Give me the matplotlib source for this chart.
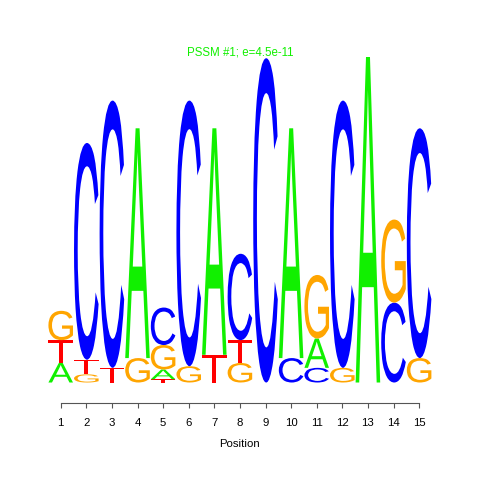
import matplotlib
matplotlib.use("Agg")
import matplotlib.pyplot as plt
from matplotlib.textpath import TextPath
from matplotlib.patches import PathPatch
from matplotlib.font_manager import FontProperties
from matplotlib.transforms import Affine2D

# information content (bits) per letter and position
positions = list(range(1, 16))
bits_A = [0.12, 0, 0, 1.41, 0.06, 0, 1.39, 0, 0, 1.41, 0.18, 0, 2.00, 0, 0]
bits_C = [0, 1.33, 1.64, 0, 0.23, 1.63, 0, 0.53, 1.99, 0.15, 0.09, 1.64, 0, 0.49, 1.41]
bits_G = [0.18, 0.05, 0, 0.15, 0.15, 0.10, 0, 0.12, 0, 0, 0.39, 0.09, 0, 0.51, 0.15]
bits_T = [0.14, 0.09, 0.09, 0, 0.02, 0, 0.17, 0.14, 0, 0, 0, 0, 0, 0, 0]

colors = {"A": "#11f000", "C": "#0000ff", "G": "#ffa500", "T": "#ff0000"}
title = "PSSM #1; e=4.5e-11"

glyph_font = FontProperties(family="Liberation Sans", weight="normal")
letter_width = 0.96


def draw_letter(ax, letter, x, y0, h):
    tp = TextPath((0, 0), letter, size=1, prop=glyph_font)
    bb = tp.get_extents()
    tr = (Affine2D().translate(-bb.x0, -bb.y0)
          .scale(letter_width / bb.width, h / bb.height)
          .translate(x - letter_width / 2, y0))
    ax.add_patch(PathPatch(tr.transform_path(tp), facecolor=colors[letter],
                           edgecolor="none", lw=0))


fig = plt.figure(figsize=(4.8, 4.8), dpi=100)
ax = fig.add_axes([0.0998, 0.2031, 0.80, 0.679])

table = {"A": bits_A, "C": bits_C, "G": bits_G, "T": bits_T}
for i, pos in enumerate(positions):
    stack = sorted([(table[l][i], l) for l in "ACGT" if table[l][i] > 0])
    y = 0
    for h, l in stack:
        draw_letter(ax, l, pos, y, h)
        y += h

ax.set_xlim(0.5, 15.5)
ax.set_ylim(0, 2.0)
for s in ["top", "right", "left"]:
    ax.spines[s].set_visible(False)
ax.spines["bottom"].set_position(("outward", 14.5))
ax.spines["bottom"].set_bounds(1, 15)
ax.spines["bottom"].set_color("#555555")
ax.spines["bottom"].set_linewidth(0.8)
ax.set_yticks([])
ax.set_xticks(positions)
ax.tick_params(axis="x", direction="out", length=3.6, width=0.8, color="#555555",
               pad=7.5, labelsize=8.2)
for lab in ax.get_xticklabels():
    lab.set_fontfamily("Liberation Sans")
ax.set_xlabel("Position", fontsize=8.2, family="Liberation Sans", labelpad=8)

fig.text(0.5, 1 - 52.5 / 480, title, color=colors["A"], fontsize=8.3,
         family="Liberation Sans", ha="center", va="center")

fig.savefig("out.png", dpi=100, facecolor="white")
